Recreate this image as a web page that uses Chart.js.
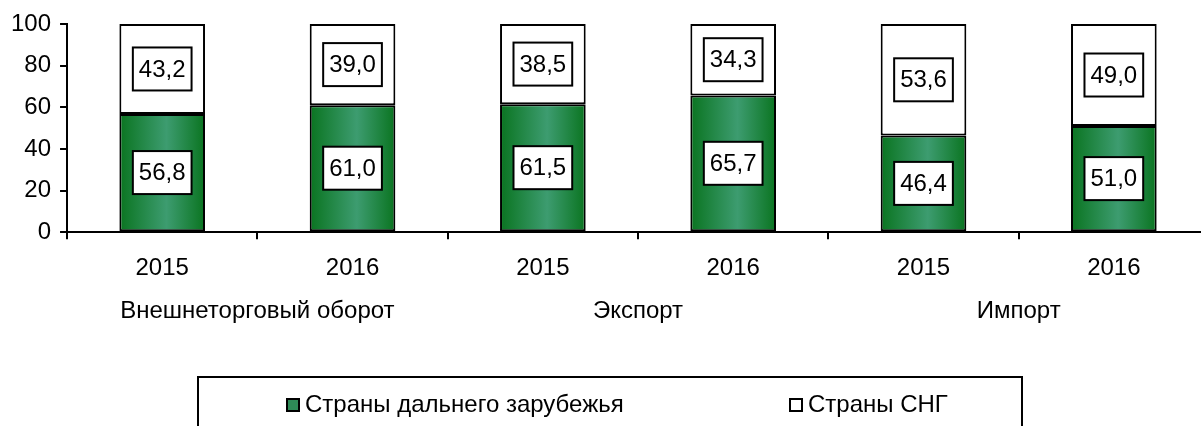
<!DOCTYPE html>
<html>
<head>
<meta charset="utf-8">
<script src="https://cdn.jsdelivr.net/npm/chart.js@4"></script>
<style>
  html, body { margin: 0; padding: 0; background: #fff; overflow: hidden; width: 1201px; height: 426px; }
  #wrap { position: relative; width: 1216px; height: 426px; }
  #legend { position: absolute; left: 197px; top: 376px; width: 826px; height: 70px; border: 2px solid #000; box-sizing: border-box;
            font-family: "Liberation Sans", Arial, sans-serif; font-size: 24px; color: #000; }
  .item { position: absolute; top: 13px; white-space: nowrap; line-height: 26px; }
  .sw { display: inline-block; width: 10px; height: 10px; border: 2px solid #000; margin-right: 5px; vertical-align: 0px; }
</style>
</head>
<body>
<div id="wrap">
  <canvas id="chart" width="1216" height="426"></canvas>
  <div id="legend"></div>
</div>
<script>
const years = ['2015', '2016', '2015', '2016', '2015', '2016'];
const groups = ['Внешнеторговый оборот', 'Экспорт', 'Импорт'];
const farAbroad = [56.8, 61.0, 61.5, 65.7, 46.4, 51.0];
const cis = [43.2, 39.0, 38.5, 34.3, 53.6, 49.0];
const seriesNames = ['Страны дальнего зарубежья', 'Страны СНГ'];
const yTicks = [0, 20, 40, 60, 80, 100];

const FONT = '"Liberation Sans", Arial, sans-serif';
const barPct = 0.45;

// horizontal green gradient, dark at the edges
function greenFill(ctx) {
  const chart = ctx.chart;
  const x = chart.scales.x;
  if (!x || ctx.dataIndex === undefined) return '#1f8a45';
  const c = x.getPixelForValue(ctx.dataIndex);
  const w = (x.getPixelForValue(1) - x.getPixelForValue(0)) * barPct;
  if (!isFinite(c) || !isFinite(w) || w <= 0) return '#1f8a45';
  const g = chart.ctx.createLinearGradient(c - w / 2, 0, c + w / 2, 0);
  g.addColorStop(0, '#0a7420');
  g.addColorStop(0.55, '#3d9c70');
  g.addColorStop(1, '#0a7420');
  return g;
}

const boxLabels = {
  id: 'boxLabels',
  afterDatasetsDraw(chart) {
    const ctx = chart.ctx;
    ctx.save();
    ctx.font = '24px ' + FONT;
    ctx.textAlign = 'center';
    ctx.textBaseline = 'middle';
    chart.data.datasets.forEach((ds, i) => {
      chart.getDatasetMeta(i).data.forEach((bar, j) => {
        const p = bar.getCenterPoint();
        const txt = ds.data[j].toFixed(1).replace('.', ',');
        const bw = ctx.measureText(txt).width + 12, bh = 43;
        ctx.fillStyle = '#fff';
        ctx.fillRect(p.x - bw / 2, p.y - bh / 2, bw, bh);
        ctx.lineWidth = 2;
        ctx.strokeStyle = '#000';
        ctx.strokeRect(p.x - bw / 2, p.y - bh / 2, bw, bh);
        ctx.fillStyle = '#000';
        ctx.fillText(txt, p.x, p.y + 1);
      });
    });
    ctx.restore();
  }
};

const groupLabels = {
  id: 'groupLabels',
  afterDraw(chart) {
    const ctx = chart.ctx, x = chart.scales.x;
    ctx.save();
    ctx.font = '24px ' + FONT;
    ctx.fillStyle = '#000';
    ctx.textAlign = 'center';
    ctx.textBaseline = 'middle';
    groups.forEach((g, i) => {
      const cx = (x.getPixelForValue(2 * i) + x.getPixelForValue(2 * i + 1)) / 2;
      ctx.fillText(g, cx, chart.chartArea.bottom + 79);
    });
    ctx.restore();
  }
};

const chart = new Chart(document.getElementById('chart'), {
  type: 'bar',
  data: {
    labels: years,
    datasets: [
      { label: seriesNames[0], data: farAbroad, backgroundColor: greenFill, borderColor: '#000', borderWidth: 2, borderSkipped: false },
      { label: seriesNames[1], data: cis, backgroundColor: '#fff', borderColor: '#000', borderWidth: 2, borderSkipped: false },
    ],
  },
  options: {
    responsive: false,
    animation: false,
    layout: { padding: { left: 2, right: 7, top: 24, bottom: 128 } },
    datasets: { bar: { barPercentage: barPct, categoryPercentage: 1 } },
    plugins: { legend: { display: false }, tooltip: { enabled: false } },
    scales: {
      x: {
        stacked: true,
        border: { color: '#000', width: 2 },
        grid: { drawOnChartArea: false, offset: true, tickLength: 7, color: '#000', lineWidth: 2 },
        ticks: { color: '#000', padding: 15, font: { family: FONT, size: 24 } },
      },
      y: {
        stacked: true,
        min: 0, max: 100,
        afterBuildTicks: (s) => { s.ticks = yTicks.map((v) => ({ value: v })); },
        border: { color: '#000', width: 2 },
        grid: { drawOnChartArea: false, tickLength: 7, color: '#000', lineWidth: 2 },
        ticks: { color: '#000', padding: 9, font: { family: FONT, size: 24 } },
      },
    },
  },
  plugins: [boxLabels, groupLabels],
});
// second pass so the gradient is built with the final scale
chart.update('none');

// legend box built from the series names
const legend = document.getElementById('legend');
const swatches = ['#2e8b57', '#fff'];
const lefts = [87, 590];
seriesNames.forEach((name, i) => {
  const d = document.createElement('div');
  d.className = 'item';
  d.style.left = lefts[i] + 'px';
  d.innerHTML = '<span class="sw" style="background:' + swatches[i] + '"></span>' + name;
  legend.appendChild(d);
});
</script>
</body>
</html>
